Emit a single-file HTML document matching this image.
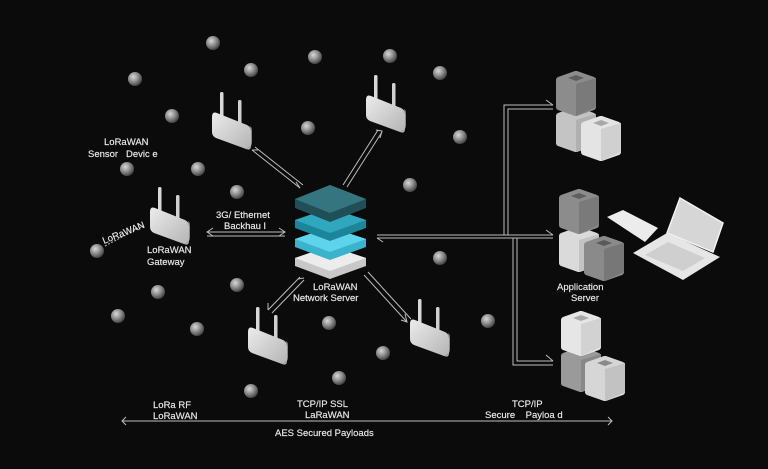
<!DOCTYPE html>
<html><head><meta charset="utf-8"><style>
html,body{margin:0;padding:0;background:#0b0b0b;}
svg{display:block}
text{font-family:"Liberation Sans",Arial,sans-serif;fill:#ececec;font-size:9.5px;stroke:#ececec;stroke-width:0.15px;}
</style></head><body>
<svg width="768" height="469" viewBox="0 0 768 469" xmlns="http://www.w3.org/2000/svg">
<defs>
<radialGradient id="sp" cx="0.38" cy="0.35" r="0.7">
<stop offset="0" stop-color="#d8d8d8"/><stop offset="0.5" stop-color="#8d8d8d"/><stop offset="1" stop-color="#3a3a3a"/>
</radialGradient>
<linearGradient id="rb" x1="0" y1="0" x2="1" y2="1"><stop offset="0" stop-color="#ececec"/><stop offset="1" stop-color="#b4b4b4"/></linearGradient>
<g id="router">
<rect x="8" y="-22" width="3.5" height="27" rx="1.5" fill="#d8d8d8"/>
<rect x="26" y="-14" width="3.5" height="26" rx="1.5" fill="#d0d0d0"/>
<path d="M5,-1 L35,11 Q39,13 39,17 L39,32 Q39,37 34,35 L4,24 Q0,22 0,18 L0,3 Q0,-3 5,-1Z" fill="url(#rb)"/>
<path d="M34,35 L37,34 Q40,32 40,28 L40,17 Q40,13 38,12 L39,17 L39,32Z" fill="#8a8a8a"/>
</g>
<g id="cubeShape">
<path d="M2,6 L19,0 Q20,0 21,0 L38,6 Q40,7 40,9 L40,36 Q40,38 38,39 L21,45 Q20,45 19,45 L2,39 Q0,38 0,36 L0,9 Q0,7 2,6Z"/>
</g>
</defs>

<g fill="url(#sp)">
<circle cx="213" cy="43" r="7"/><circle cx="135" cy="79" r="7"/><circle cx="251" cy="70" r="7"/>
<circle cx="315" cy="57" r="7"/><circle cx="390" cy="56" r="7"/><circle cx="440" cy="73" r="7"/>
<circle cx="172" cy="116" r="7"/><circle cx="308" cy="128" r="7"/><circle cx="460" cy="137" r="7"/>
<circle cx="127" cy="169" r="7"/><circle cx="198" cy="169" r="7"/><circle cx="237" cy="192" r="7"/>
<circle cx="410" cy="185" r="7"/><circle cx="97" cy="251" r="7"/><circle cx="440" cy="258" r="7"/>
<circle cx="158" cy="292" r="7"/><circle cx="237" cy="285" r="7"/><circle cx="118" cy="316" r="7"/>
<circle cx="197" cy="329" r="7"/><circle cx="329" cy="323" r="7"/><circle cx="488" cy="321" r="7"/>
<circle cx="383" cy="353" r="7"/><circle cx="339" cy="378" r="7"/><circle cx="251" cy="391" r="7"/>
</g>

<g stroke="#bdbdbd" stroke-width="1" fill="none">
<line x1="207" y1="232" x2="285" y2="232"/><line x1="207" y1="236" x2="285" y2="236"/>
<polyline points="213,228 207,232 213,236"/><polyline points="279,228 285,232 279,236"/>
<line x1="252" y1="150" x2="300" y2="188"/><line x1="255" y1="147" x2="303" y2="185"/>
<polyline points="252,150 258,150"/><polyline points="300,188 296,182"/>
<line x1="343" y1="185" x2="378" y2="130"/><line x1="347" y1="187" x2="382" y2="132"/>
<polyline points="376,130 382,131 380,138"/>
<line x1="268" y1="310" x2="300" y2="277"/><line x1="272" y1="313" x2="304" y2="280"/>
<polyline points="268,310 268,303"/><polyline points="298,279 304,278"/>
<line x1="364" y1="275" x2="407" y2="322"/><line x1="368" y1="272" x2="411" y2="319"/>
<polyline points="405,314 407,322 401,320"/>
<line x1="377" y1="235" x2="553" y2="235"/><line x1="377" y1="238" x2="553" y2="238"/>
<polyline points="383,242 377,238"/><polyline points="546,230 553,235"/>
<polyline points="504,235 504,105 553,105"/><polyline points="508,235 508,109 553,109"/>
<polyline points="546,100 553,105"/>
<polyline points="513,238 513,365 553,365"/><polyline points="517,238 517,361 553,361"/>
<polyline points="546,355 553,361"/>
<line x1="105" y1="246" x2="143" y2="226" stroke-dasharray="2,1.5"/>
<line x1="122" y1="421" x2="612" y2="421"/>
<polyline points="126,417 122,421 126,425"/><polyline points="608,417 612,421 608,425"/>
</g>

<use href="#router" x="212" y="114"/>
<use href="#router" x="366" y="97"/>
<use href="#router" x="150" y="209"/>
<use href="#router" x="248" y="329"/>
<use href="#router" x="410" y="321"/>

<g>
<path d="M295,258 L330,246 L366,258 L366,266 L330,279 L295,266Z" fill="#c8c8c8"/>
<path d="M295,258 L330,246 L366,258 L330,271Z" fill="#ececec"/>
<path d="M295,239 L330,227 L366,239 L366,247 L330,260 L295,247Z" fill="#3ab3cc"/>
<path d="M295,239 L330,227 L366,239 L330,252Z" fill="#5dd4ec"/>
<path d="M295,220 L330,208 L366,220 L366,228 L330,241 L295,228Z" fill="#1c8599"/>
<path d="M295,220 L330,208 L366,220 L330,233Z" fill="#2fa8bf"/>
<path d="M295,199 L330,185 L366,199 L366,208 L330,222 L295,208Z" fill="#214f57"/>
<path d="M295,199 L330,185 L366,199 L330,213Z" fill="#347580"/>
</g>

<g>
<g transform="translate(556,107)"><use href="#cubeShape" fill="#c4c4c4"/><path d="M20,13 L40,7 L40,36 L20,45Z" fill="#b0b0b0"/></g>
<g transform="translate(556,71)"><use href="#cubeShape" fill="#8c8c8c"/><path d="M12,7 L20,4 L28,7 L20,10Z" fill="#5e5e5e"/><path d="M20,13 L40,7 L40,36 L20,45Z" fill="#7a7a7a"/></g>
<g transform="translate(581,116)"><use href="#cubeShape" fill="#e4e4e4"/><path d="M12,7 L20,4 L28,7 L20,10Z" fill="#a8a8a8"/><path d="M20,13 L40,7 L40,36 L20,45Z" fill="#d0d0d0"/></g>

<g transform="translate(559,227)"><use href="#cubeShape" fill="#dadada"/><path d="M20,13 L40,7 L40,36 L20,45Z" fill="#c4c4c4"/></g>
<g transform="translate(559,189)"><use href="#cubeShape" fill="#8c8c8c"/><path d="M12,7 L20,4 L28,7 L20,10Z" fill="#5e5e5e"/><path d="M20,13 L40,7 L40,36 L20,45Z" fill="#7a7a7a"/></g>
<g transform="translate(584,236)"><use href="#cubeShape" fill="#8a8a8a"/><path d="M12,7 L20,4 L28,7 L20,10Z" fill="#5a5a5a"/><path d="M20,13 L40,7 L40,36 L20,45Z" fill="#777"/></g>

<g transform="translate(561,347)"><use href="#cubeShape" fill="#9a9a9a"/><path d="M20,13 L40,7 L40,36 L20,45Z" fill="#888"/></g>
<g transform="translate(561,311)"><use href="#cubeShape" fill="#e6e6e6"/><path d="M12,7 L20,4 L28,7 L20,10Z" fill="#a8a8a8"/><path d="M20,13 L40,7 L40,36 L20,45Z" fill="#d2d2d2"/></g>
<g transform="translate(585,356)"><use href="#cubeShape" fill="#d6d6d6"/><path d="M12,7 L20,4 L28,7 L20,10Z" fill="#8a8a8a"/><path d="M20,13 L40,7 L40,36 L20,45Z" fill="#c2c2c2"/></g>
</g>

<path d="M607,217 L623,210 L658,228 L645,242Z" fill="#ececec"/>
<path d="M680,198 L723,223 L713,252 L667,233Z" fill="#d6d6d6" stroke="#f2f2f2" stroke-width="1.5"/>
<path d="M633,253 L667,233 L720,257 L683,280Z" fill="#e6e6e6"/>
<path d="M645,255 L668,242 L705,258 L683,271Z" fill="#cfcfcf"/>

<text x="104" y="145">LoRaWAN</text>
<text x="88" y="157">Sensor&#160;&#160;&#160;Devic&#160;e</text>
<text x="104" y="244" transform="rotate(-22 104 244)">LoRaWAN</text>
<text x="147" y="253">LoRaWAN</text>
<text x="147" y="265">Gateway</text>
<text x="216" y="218">3G/ Ethernet</text>
<text x="224" y="229">Backhau&#160;l</text>
<text x="313" y="290">LoRaWAN</text>
<text x="293" y="301">Network Server</text>
<text x="557" y="290">Application</text>
<text x="571" y="301">Server</text>
<text x="153" y="408">LoRa RF</text>
<text x="153" y="419">LoRaWAN</text>
<text x="297" y="407">TCP/IP SSL</text>
<text x="305" y="418">LaRaWAN</text>
<text x="512" y="407">TCP/IP</text>
<text x="485" y="418">Secure&#160;&#160;&#160;&#160;Payloa&#160;d</text>
<text x="275" y="436">AES Secured Payloads</text>
</svg>
</body></html>
